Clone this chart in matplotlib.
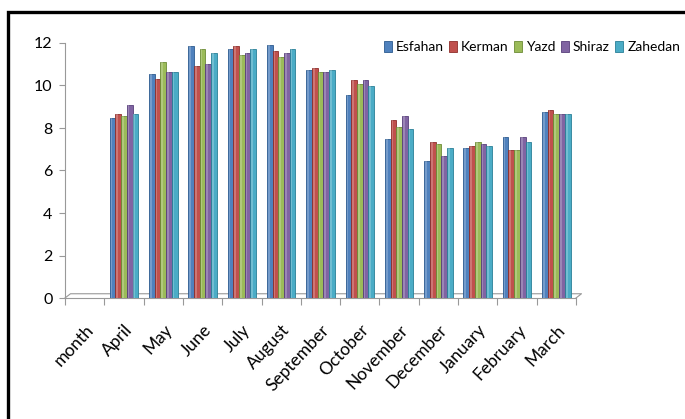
import numpy as np
import matplotlib
matplotlib.use('Agg')
import matplotlib.pyplot as plt
import matplotlib.transforms as mtransforms
from matplotlib.patches import Rectangle

plt.rcParams['font.family'] = ['Lato', 'DejaVu Sans']

months = ['month', 'April', 'May', 'June', 'July', 'August', 'September',
          'October', 'November', 'December', 'January', 'February', 'March']
cities = ['Esfahan', 'Kerman', 'Yazd', 'Shiraz', 'Zahedan']

# the 'month' slot is the header row and has no values
esfahan = [np.nan, 8.45, 10.54, 11.86, 11.72, 11.92, 10.71, 9.55, 7.47, 6.46, 7.07, 7.56, 8.77]
kerman = [np.nan, 8.66, 10.32, 10.93, 11.84, 11.62, 10.82, 10.26, 8.38, 7.36, 7.15, 6.96, 8.86]
yazd = [np.nan, 8.56, 11.12, 11.72, 11.42, 11.33, 10.62, 10.07, 8.06, 7.26, 7.36, 6.96, 8.67]
shiraz = [np.nan, 9.07, 10.62, 11.03, 11.51, 11.53, 10.62, 10.26, 8.56, 6.67, 7.26, 7.56, 8.67]
zahedan = [np.nan, 8.66, 10.62, 11.53, 11.72, 11.72, 10.71, 9.98, 7.95, 7.04, 7.17, 7.36, 8.67]

series = [esfahan, kerman, yazd, shiraz, zahedan]
colors = ['#4F81BD', '#C0504D', '#9BBB59', '#8064A2', '#4BACC6']
edges = ['#2C5A8F', '#8E2E2B', '#6C8B35', '#583F7A', '#2A7F97']

fig = plt.figure(figsize=(6.85, 4.19), dpi=100)
ax = fig.add_axes([65 / 685, 121 / 419, 511 / 685, 255 / 419])

x = np.arange(len(months)) + 0.5
w = 0.145
for i, (vals, c, ec) in enumerate(zip(series, colors, edges)):
    ax.bar(x + (i - 2) * w, vals, width=w, color=c, edgecolor=ec,
           linewidth=0.6, label=cities[i], zorder=3)
    # light strip for a rounded look
    ax.bar(x + (i - 2) * w - w * 0.18, vals, width=w * 0.3, color='white',
           alpha=0.22, linewidth=0, zorder=4)

ax.set_xlim(0, len(months))
ax.set_ylim(0, 12)
ax.set_yticks(range(0, 13, 2))
ax.set_xticks(np.arange(len(months) + 1))
ax.set_xticklabels([])
ax.tick_params(axis='y', labelsize=11.5, color='#999999', length=4, width=0.8, pad=5)
ax.tick_params(axis='x', color='#999999', length=5, width=0.8, direction='out')
for side in ['top', 'right']:
    ax.spines[side].set_visible(False)
for side in ['left', 'bottom']:
    ax.spines[side].set_color('#999999')
    ax.spines[side].set_linewidth(0.8)

# floor of the 3d box
dx, dy = 0.14, 0.2
ax.plot([0, dx, len(months) + dx, len(months)], [0, dy, dy, 0],
        color='#999999', lw=0.8, clip_on=False, zorder=2)

# rotated month names under each slot
offset = mtransforms.ScaledTranslation(6 / 100, -29 / 100, fig.dpi_scale_trans)
for xi, m in zip(x, months):
    ax.text(xi, 0, m, rotation=47, ha='right', va='center', rotation_mode='anchor',
            fontsize=12.5, transform=ax.transData + offset)

fig.legend(loc='center left', bbox_to_anchor=(384 / 685, 1 - 47 / 419), ncol=5,
           frameon=False, fontsize=10, handlelength=0.55, handleheight=0.85,
           handletextpad=0.3, columnspacing=0.4, borderaxespad=0, borderpad=0)

# outer chart frame
fig.patches.append(Rectangle((8 / 685, -0.05), 1.0, 1 - 12 / 419 + 0.05,
                             transform=fig.transFigure, fill=False,
                             edgecolor='black', linewidth=2.4))

fig.savefig('out.png', dpi=100)
